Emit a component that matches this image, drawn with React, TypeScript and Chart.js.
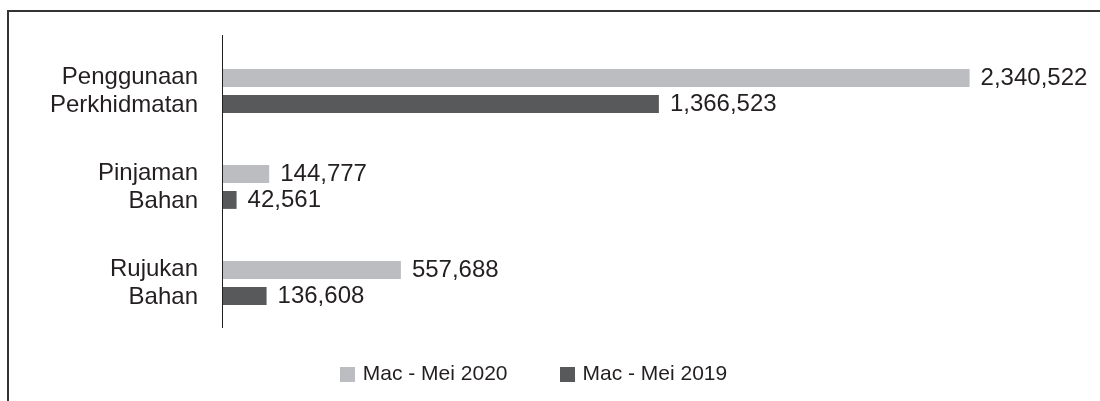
import React, { useEffect, useRef } from "react";
import { Chart, registerables } from "chart.js";

Chart.register(...registerables);

const categories: string[][] = [
  ["Penggunaan", "Perkhidmatan"],
  ["Pinjaman", "Bahan"],
  ["Rujukan", "Bahan"],
];
const seriesNames = ["Mac - Mei 2020", "Mac - Mei 2019"];
const values2020 = [2340522, 144777, 557688];
const values2019 = [1366523, 42561, 136608];
const seriesColors = ["#bcbdc0", "#58595b"];
const xMax = 2624000;

const TEXT = "#231f20";
const FONT = "'Liberation Sans', Arial, Helvetica, sans-serif";

const valueLabels = {
  id: "valueLabels",
  afterDatasetsDraw(chart: any) {
    const ctx = chart.ctx;
    ctx.save();
    ctx.font = `24px ${FONT}`;
    ctx.fillStyle = TEXT;
    ctx.textAlign = "left";
    ctx.textBaseline = "middle";
    chart.data.datasets.forEach((ds: any, di: number) => {
      const meta = chart.getDatasetMeta(di);
      meta.data.forEach((bar: any, i: number) => {
        const v = ds.data[i] as number;
        ctx.fillText(v.toLocaleString("en-US"), bar.x + 11, bar.y);
      });
    });
    ctx.restore();
  },
};

const axisLine = {
  id: "axisLine",
  afterDatasetsDraw(chart: any) {
    const { ctx, chartArea } = chart;
    ctx.save();
    ctx.strokeStyle = TEXT;
    ctx.lineWidth = 1;
    ctx.beginPath();
    ctx.moveTo(chartArea.left - 0.5, chartArea.top - 8);
    ctx.lineTo(chartArea.left - 0.5, chartArea.bottom - 3);
    ctx.stroke();
    ctx.restore();
  },
};

const customLegend = {
  id: "customLegend",
  afterDraw(chart: any) {
    const ctx = chart.ctx;
    const box = 15;
    const gapText = 8;
    const gapItem = 52;
    const centerX = 524.5;
    const y = 362;
    ctx.save();
    ctx.font = `21px ${FONT}`;
    ctx.textBaseline = "middle";
    ctx.textAlign = "left";
    const items = chart.data.datasets.map((ds: any) => ({
      text: ds.label as string,
      color: ds.backgroundColor as string,
      w: ctx.measureText(ds.label).width,
    }));
    const total =
      items.reduce((s: number, it: any) => s + box + gapText + it.w, 0) +
      gapItem * (items.length - 1);
    let x = centerX - total / 2;
    items.forEach((it: any) => {
      ctx.fillStyle = it.color;
      ctx.fillRect(Math.round(x), Math.round(y - box / 2), box, box);
      ctx.fillStyle = TEXT;
      ctx.fillText(it.text, x + box + gapText, y);
      x += box + gapText + it.w + gapItem;
    });
    ctx.restore();
  },
};

export default function App() {
  const canvasRef = useRef<HTMLCanvasElement | null>(null);

  useEffect(() => {
    if (!canvasRef.current) return;
    const chart = new Chart(canvasRef.current, {
      type: "bar",
      data: {
        labels: categories,
        datasets: [
          {
            label: seriesNames[0],
            data: values2020,
            backgroundColor: seriesColors[0],
            categoryPercentage: 0.54,
            barPercentage: 0.69,
          },
          {
            label: seriesNames[1],
            data: values2019,
            backgroundColor: seriesColors[1],
            categoryPercentage: 0.54,
            barPercentage: 0.69,
          },
        ],
      },
      options: {
        indexAxis: "y",
        animation: false,
        responsive: true,
        maintainAspectRatio: false,
        layout: { padding: { top: 31, bottom: 70, left: 0, right: 40 } },
        plugins: {
          legend: { display: false },
          tooltip: { enabled: false },
        },
        scales: {
          x: {
            display: false,
            min: 0,
            max: xMax,
          },
          y: {
            grid: { display: false, drawTicks: false },
            border: { display: false },
            ticks: {
              color: TEXT,
              padding: 25,
              font: { family: FONT, size: 24, lineHeight: 1.17 },
            },
            afterFit(scale: any) {
              scale.width = 214;
              scale.paddingTop = 0;
              scale.paddingBottom = 0;
            },
          },
        },
      },
      plugins: [valueLabels, axisLine, customLegend],
    } as any);
    return () => chart.destroy();
  }, []);

  return (
    <div
      style={{
        position: "absolute",
        left: 7,
        top: 10,
        width: 1093,
        height: 391,
        boxSizing: "border-box",
        borderTop: "2px solid #333333",
        borderLeft: "2px solid #333333",
        background: "#ffffff",
      }}
    >
      <div style={{ position: "relative", width: "100%", height: "100%" }}>
        <canvas ref={canvasRef} />
      </div>
    </div>
  );
}
